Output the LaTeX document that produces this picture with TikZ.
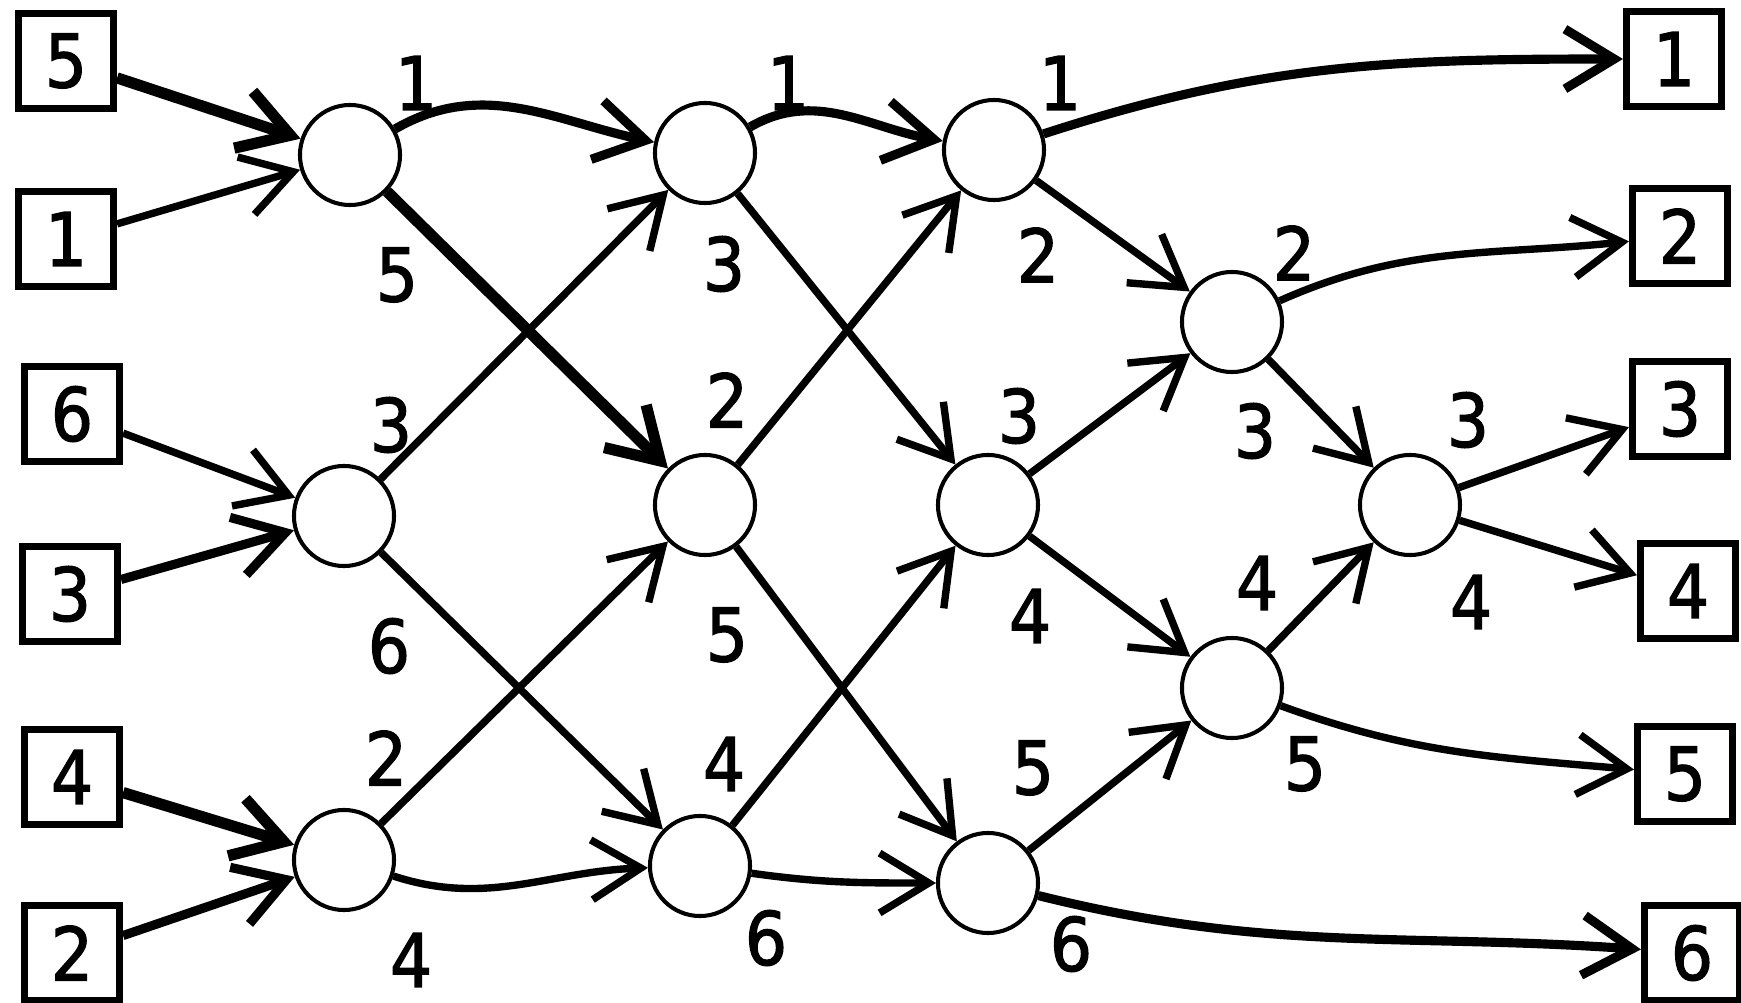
\documentclass[tikz,border=0pt]{standalone}
\usepackage{fontspec}
\setmainfont{DejaVu Sans}
\newfontfamily\digitfont[FakeBold=1.6]{DejaVu Sans Condensed}
\usetikzlibrary{arrows.meta}
\begin{document}
\begin{tikzpicture}[x=0.01cm,y=0.01cm,
  cmp/.style={circle,draw,line width=1.15pt,minimum size=1cm,inner sep=0pt},
  io/.style={rectangle,draw,line width=2pt,minimum width=0.95cm,minimum height=0.95cm,inner sep=0pt,font=\digitfont\fontsize{21}{22}\selectfont},
  lab/.style={inner sep=0pt,font=\digitfont\fontsize{21}{22}\selectfont},
  wire/.style={line width=2.1pt,-{Straight Barb[length=14pt,width=17pt]}},
  heavy/.style={wire,line width=3.2pt},
  medium/.style={wire,line width=2.6pt}
]
\useasboundingbox (0,0) rectangle (1741,-1003);
% input boxes
\node[io] (in5) at (66,-61) {5};
\node[io] (in1) at (66,-239) {1};
\node[io] (in6) at (72,-414) {6};
\node[io] (in3) at (70,-594) {3};
\node[io] (in4) at (72,-777) {4};
\node[io] (in2) at (72,-953) {2};
% output boxes
\node[io] (out1) at (1674,-59) {1};
\node[io] (out2) at (1680,-236) {2};
\node[io] (out3) at (1680,-409) {3};
\node[io] (out4) at (1688,-591) {4};
\node[io] (out5) at (1685,-774) {5};
\node[io] (out6) at (1692,-953) {6};
% comparators
\node[cmp] (A1) at (350,-155) {};
\node[cmp] (A2) at (344,-516) {};
\node[cmp] (A3) at (344,-860) {};
\node[cmp] (B1) at (705,-153) {};
\node[cmp] (B2) at (705,-505) {};
\node[cmp] (B3) at (700,-866) {};
\node[cmp] (C1) at (994,-150) {};
\node[cmp] (C2) at (988,-505) {};
\node[cmp] (C3) at (988,-883) {};
\node[cmp] (D1) at (1232,-322) {};
\node[cmp] (D2) at (1232,-688) {};
\node[cmp] (E1) at (1410,-505) {};
% labels
\node[lab] (lA1t) at (416,-83) {1};
\node[lab] (lA1b) at (397,-275) {5};
\node[lab] (lA2t) at (391,-425) {3};
\node[lab] (lA2b) at (389,-646) {6};
\node[lab] (lA3t) at (386,-758) {2};
\node[lab] (lA3b) at (411,-960) {4};
\node[lab] (lB1t) at (788,-83) {1};
\node[lab] (lB1b) at (724,-264) {3};
\node[lab] (lB2t) at (727,-400) {2};
\node[lab] (lB2b) at (727,-635) {5};
\node[lab] (lB3t) at (724,-764) {4};
\node[lab] (lB3b) at (766,-938) {6};
\node[lab] (lC1t) at (1060,-83) {1};
\node[lab] (lC1b) at (1038,-255) {2};
\node[lab] (lC2t) at (1019,-416) {3};
\node[lab] (lC2b) at (1030,-616) {4};
\node[lab] (lC3t) at (1033,-768) {5};
\node[lab] (lC3b) at (1071,-944) {6};
\node[lab] (lD1t) at (1294,-253) {2};
\node[lab] (lD1b) at (1255,-431) {3};
\node[lab] (lD2t) at (1257,-583) {4};
\node[lab] (lD2b) at (1305,-764) {5};
\node[lab] (lE1t) at (1468,-420) {3};
\node[lab] (lE1b) at (1471,-602) {4};
% inputs
\draw[heavy] (in5) -- (A1);
\draw[wire] (in1) -- (A1);
\draw[wire] (in6) -- (A2);
\draw[medium] (in3) -- (A2);
\draw[heavy] (in4) -- (A3);
\draw[medium] (in2) -- (A3);
% layer 1
\draw[medium] (A1) to[out=30,in=168] (B1);
\draw[heavy] (A1) -- (B2);
\draw[wire] (A2) -- (B1);
\draw[wire] (A2) -- (B3);
\draw[wire] (A3) -- (B2);
\draw[wire] (A3) to[out=-18,in=182] (B3);
% layer 2
\draw[medium] (B1) to[out=30,in=170] (C1);
\draw[wire] (B1) -- (C2);
\draw[wire] (B2) -- (C1);
\draw[wire] (B2) -- (C3);
\draw[wire] (B3) -- (C2);
\draw[wire] (B3) to[out=-8,in=180] (C3);
% layer 3
\draw[medium] (C1) to[out=18,in=180] (out1);
\draw[wire] (C1) -- (D1);
\draw[wire] (C2) -- (D1);
\draw[wire] (C2) -- (D2);
\draw[wire] (C3) -- (D2);
\draw[medium] (C3) to[out=-14,in=176] (out6);
% layer 4
\draw[wire] (D1) to[out=24,in=186] (out2);
\draw[wire] (D1) -- (E1);
\draw[wire] (D2) -- (E1);
\draw[wire] (D2) to[out=-20,in=175] (out5);
% layer 5
\draw[wire] (E1) -- (out3);
\draw[wire] (E1) -- (out4);
\end{tikzpicture}
\end{document}
